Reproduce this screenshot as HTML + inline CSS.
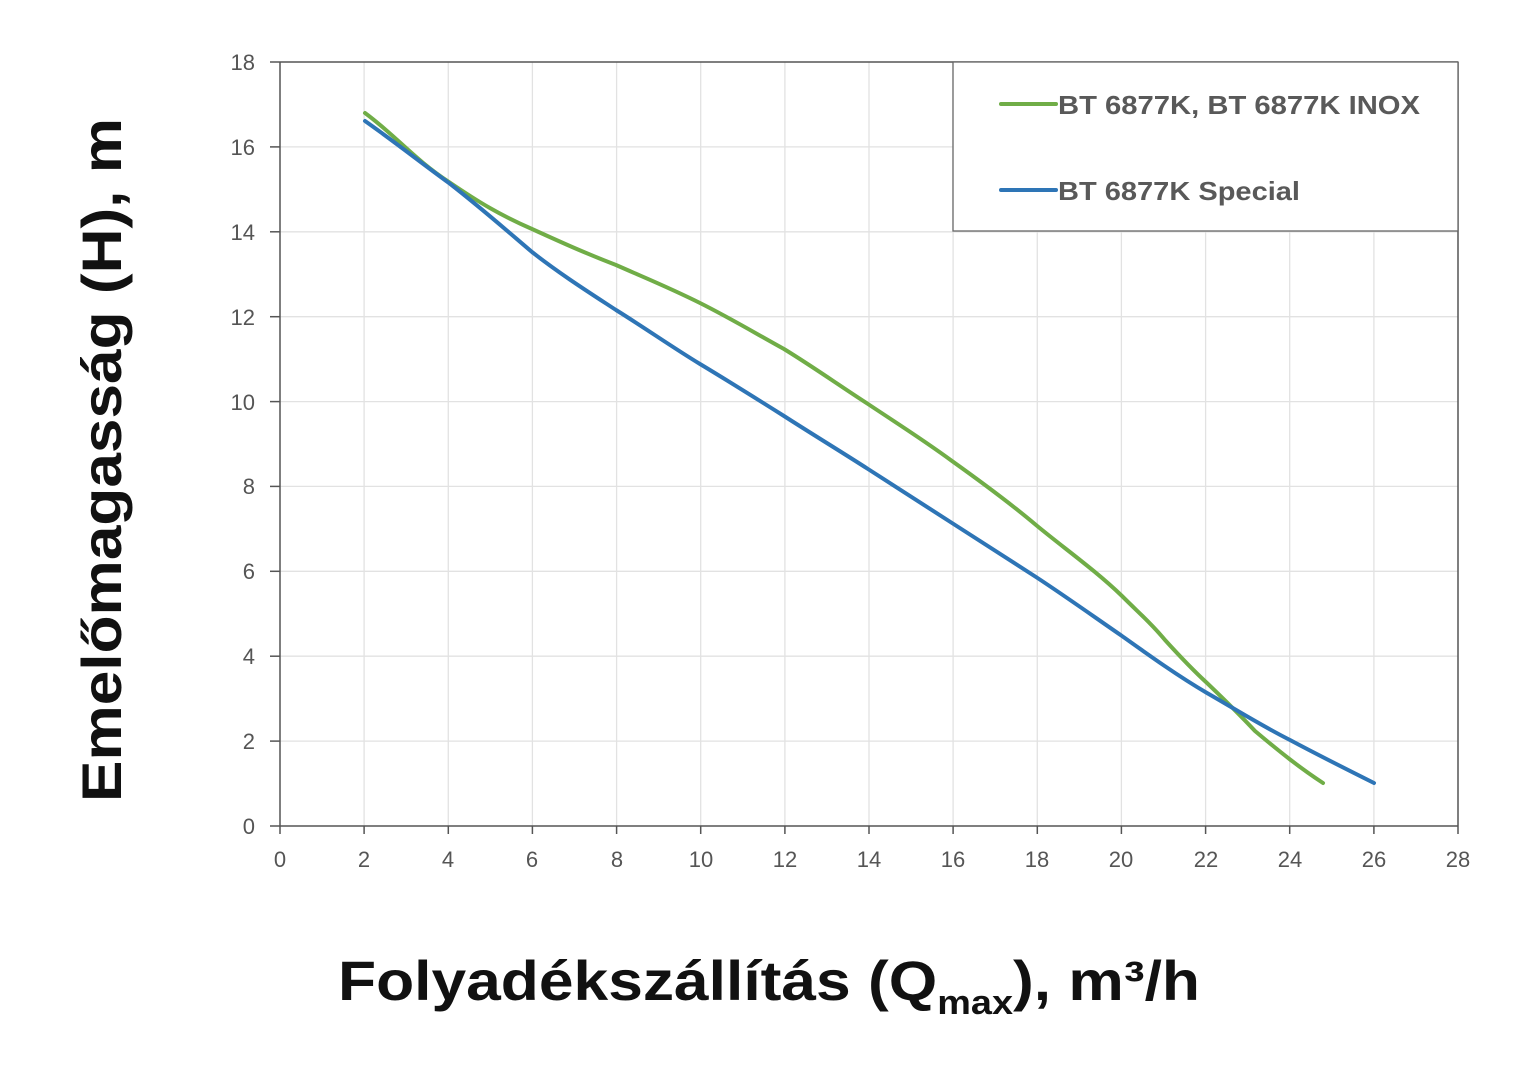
<!DOCTYPE html>
<html><head><meta charset="utf-8"><style>html,body{margin:0;padding:0;background:#fff}svg{display:block}</style></head>
<body>
<svg width="1536" height="1088" viewBox="0 0 1536 1088" xmlns="http://www.w3.org/2000/svg" font-family="Liberation Sans, DejaVu Sans, sans-serif">
<rect width="1536" height="1088" fill="#fff"/>
<g stroke="#e2e2e2" stroke-width="1.3">
<line x1="364.1" y1="62" x2="364.1" y2="826"/><line x1="448.3" y1="62" x2="448.3" y2="826"/><line x1="532.4" y1="62" x2="532.4" y2="826"/><line x1="616.6" y1="62" x2="616.6" y2="826"/><line x1="700.7" y1="62" x2="700.7" y2="826"/><line x1="784.9" y1="62" x2="784.9" y2="826"/><line x1="869" y1="62" x2="869" y2="826"/><line x1="953.1" y1="62" x2="953.1" y2="826"/><line x1="1037.3" y1="62" x2="1037.3" y2="826"/><line x1="1121.4" y1="62" x2="1121.4" y2="826"/><line x1="1205.6" y1="62" x2="1205.6" y2="826"/><line x1="1289.7" y1="62" x2="1289.7" y2="826"/><line x1="1373.9" y1="62" x2="1373.9" y2="826"/>
<line x1="280" y1="741.1" x2="1458" y2="741.1"/><line x1="280" y1="656.2" x2="1458" y2="656.2"/><line x1="280" y1="571.3" x2="1458" y2="571.3"/><line x1="280" y1="486.4" x2="1458" y2="486.4"/><line x1="280" y1="401.6" x2="1458" y2="401.6"/><line x1="280" y1="316.7" x2="1458" y2="316.7"/><line x1="280" y1="231.8" x2="1458" y2="231.8"/><line x1="280" y1="146.9" x2="1458" y2="146.9"/>
</g>
<g stroke="#555" stroke-width="1.5" fill="none">
<line x1="280" y1="62" x2="1458" y2="62"/><line x1="1458" y1="62" x2="1458" y2="826"/>
<line x1="280" y1="62" x2="280" y2="834"/><line x1="270" y1="826" x2="1458" y2="826"/>
</g>
<g stroke="#555" stroke-width="1.5">
<line x1="270" y1="62" x2="280" y2="62"/><line x1="270" y1="146.9" x2="280" y2="146.9"/><line x1="270" y1="231.8" x2="280" y2="231.8"/><line x1="270" y1="316.7" x2="280" y2="316.7"/><line x1="270" y1="401.6" x2="280" y2="401.6"/><line x1="270" y1="486.4" x2="280" y2="486.4"/><line x1="270" y1="571.3" x2="280" y2="571.3"/><line x1="270" y1="656.2" x2="280" y2="656.2"/><line x1="270" y1="741.1" x2="280" y2="741.1"/>
<line x1="364.1" y1="826" x2="364.1" y2="834"/><line x1="448.3" y1="826" x2="448.3" y2="834"/><line x1="532.4" y1="826" x2="532.4" y2="834"/><line x1="616.6" y1="826" x2="616.6" y2="834"/><line x1="700.7" y1="826" x2="700.7" y2="834"/><line x1="784.9" y1="826" x2="784.9" y2="834"/><line x1="869" y1="826" x2="869" y2="834"/><line x1="953.1" y1="826" x2="953.1" y2="834"/><line x1="1037.3" y1="826" x2="1037.3" y2="834"/><line x1="1121.4" y1="826" x2="1121.4" y2="834"/><line x1="1205.6" y1="826" x2="1205.6" y2="834"/><line x1="1289.7" y1="826" x2="1289.7" y2="834"/><line x1="1373.9" y1="826" x2="1373.9" y2="834"/><line x1="1458" y1="826" x2="1458" y2="834"/>
</g>
<g fill="#555" font-size="22" text-anchor="end">
<text x="255" y="834">0</text><text x="255" y="749">2</text><text x="255" y="664">4</text><text x="255" y="579">6</text><text x="255" y="494">8</text><text x="255" y="410">10</text><text x="255" y="325">12</text><text x="255" y="240">14</text><text x="255" y="155">16</text><text x="255" y="70">18</text>
</g>
<g fill="#555" font-size="22" text-anchor="middle">
<text x="280" y="867">0</text><text x="364" y="867">2</text><text x="448" y="867">4</text><text x="532" y="867">6</text><text x="617" y="867">8</text><text x="701" y="867">10</text><text x="785" y="867">12</text><text x="869" y="867">14</text><text x="953" y="867">16</text><text x="1037" y="867">18</text><text x="1121" y="867">20</text><text x="1206" y="867">22</text><text x="1290" y="867">24</text><text x="1374" y="867">26</text><text x="1458" y="867">28</text>
</g>
<path d="M365,113 C395,135 415,160 449,182 C480,203 500,215 532,229 C565,244 585,253 616,265 C650,280 670,288 700,303 C730,318 755,333 784,349 C815,368 840,386 868,404 C895,422 925,441 952,461 C980,481 1010,503 1036,525 C1065,549 1095,570 1122,596 C1140,614 1150,622 1165,640 C1185,662 1195,672 1207,683 C1230,705 1240,715 1255,731 C1280,752 1300,768 1323,783" fill="none" stroke="#70ad47" stroke-width="4" stroke-linecap="round"/>
<path d="M365,121 C395,142 420,162 449,183 C480,207 505,229 532,252 C560,274 590,293 616,310 C645,328 672,347 700,364 C730,382 757,399 784,416 C812,434 840,451 868,469 C896,487 924,505 952,523 C980,541 1008,559 1036,577 C1065,596 1093,616 1122,636 C1150,656 1178,676 1207,693 C1235,709 1262,726 1290,740 C1318,755 1346,769 1374,783" fill="none" stroke="#2e75b6" stroke-width="4" stroke-linecap="round"/>
<rect x="953" y="62" width="505" height="169" fill="#fff" stroke="#666" stroke-width="1.3"/>
<line x1="1001" y1="104" x2="1056" y2="104" stroke="#70ad47" stroke-width="4" stroke-linecap="round"/>
<line x1="1001" y1="190" x2="1056" y2="190" stroke="#2e75b6" stroke-width="4" stroke-linecap="round"/>
<g fill="#595959" font-size="26" font-weight="bold">
<text x="1058" y="114" textLength="362" lengthAdjust="spacingAndGlyphs">BT 6877K, BT 6877K INOX</text>
<text x="1058" y="200" textLength="242" lengthAdjust="spacingAndGlyphs">BT 6877K Special</text>
</g>
<text x="338" y="1000" font-size="56" font-weight="bold" fill="#111" textLength="862" lengthAdjust="spacingAndGlyphs">Folyadékszállítás (Q<tspan font-size="34" dy="14">max</tspan><tspan dy="-14">), m³/h</tspan></text>
<text transform="translate(121,802) rotate(-90)" font-size="56" font-weight="bold" fill="#111" textLength="684" lengthAdjust="spacingAndGlyphs">Emelőmagasság (H), m</text>
</svg>
</body></html>
